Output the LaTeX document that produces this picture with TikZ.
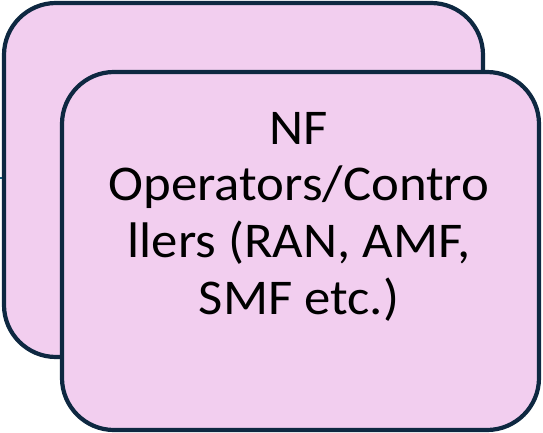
\documentclass[tikz,border=0pt]{standalone}
\usepackage{fontspec}
\setmainfont[FakeStretch=1.055]{Carlito}
\definecolor{boxfill}{HTML}{F2CEEF}
\definecolor{boxline}{HTML}{0E2841}
\definecolor{stubline}{HTML}{156082}
\begin{document}
\begin{tikzpicture}[x=1pt,y=-1pt,
  card/.style={draw=boxline, fill=boxfill, line width=4.2pt, rectangle, rounded corners=52pt, inner sep=0pt},
  stubstyle/.style={draw=stubline, line width=2pt},
  labeltext/.style={align=center, inner sep=0pt, font={\fontsize{50}{56.7}\selectfont}, text=black}]
\useasboundingbox (0,0) rectangle (543,433);
\coordinate (s0) at (-3,178);
\coordinate (s1) at (20,178);
\draw[stubstyle] (s0) -- (s1);
\node[card, minimum width=479pt, minimum height=354pt] (back) at (243.5,180) {};
\node[card, minimum width=477pt, minimum height=358pt] (front) at (300.5,251) {};
\node[labeltext, anchor=north] (label) at (299,112) {NF\\Operators/Contro\\llers (RAN, AMF,\\SMF etc.)};
\end{tikzpicture}
\end{document}
